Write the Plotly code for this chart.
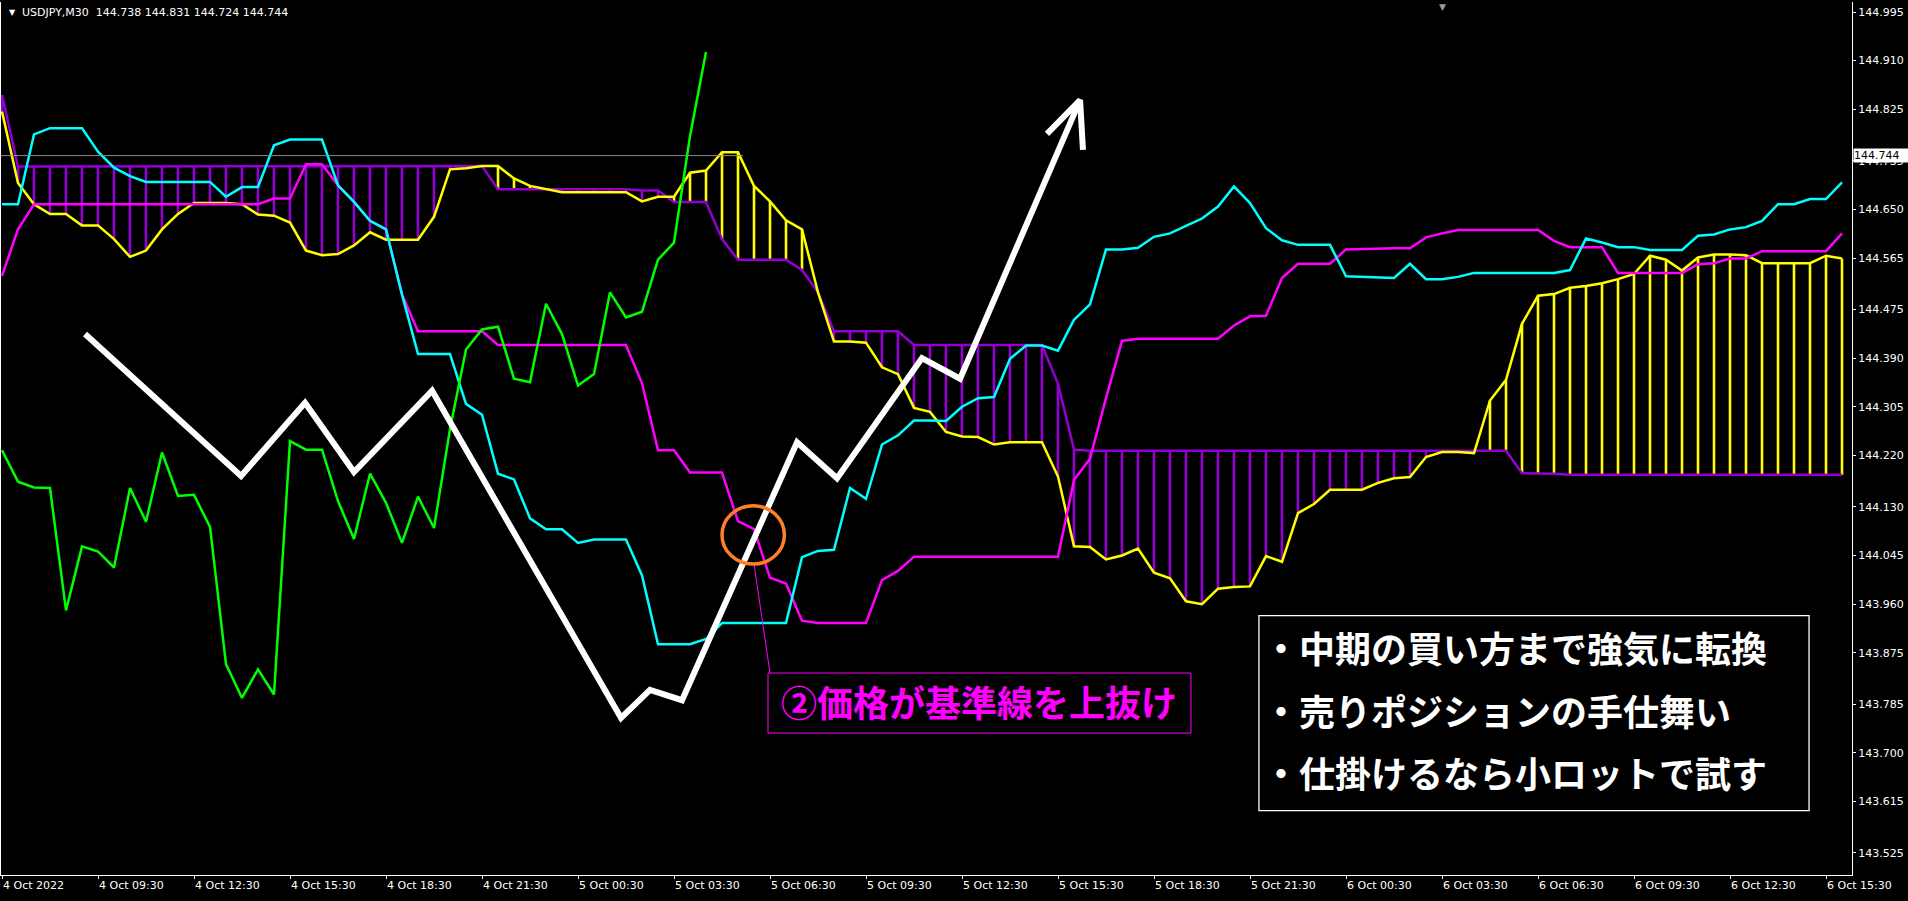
import plotly.graph_objects as go

# ---------------- data (30-minute bars, bar 0 = 4 Oct 06:30) ----------------
tenkan = [144.659, 144.659, 144.781, 144.792, 144.792, 144.792, 144.751, 144.723, 144.708, 144.698,
          144.698, 144.698, 144.698, 144.698, 144.672, 144.689, 144.689, 144.762, 144.772, 144.772,
          144.772, 144.692, 144.663, 144.630, 144.615, 144.501, 144.397, 144.397, 144.397, 144.310,
          144.291, 144.188, 144.178, 144.110, 144.091, 144.091, 144.067, 144.073, 144.073, 144.073,
          144.010, 143.890, 143.890, 143.890, 143.899, 143.927, 143.927, 143.927, 143.927, 143.927,
          144.042, 144.053, 144.055, 144.163, 144.144, 144.239, 144.255, 144.281, 144.281, 144.280,
          144.305, 144.320, 144.322, 144.389, 144.412, 144.412, 144.403, 144.457, 144.484, 144.580,
          144.580, 144.583, 144.602, 144.608, 144.621, 144.634, 144.655, 144.690, 144.661, 144.617,
          144.596, 144.588, 144.588, 144.588, 144.533, 144.532, 144.530, 144.530, 144.555, 144.528,
          144.528, 144.532, 144.539, 144.539, 144.539, 144.539, 144.539, 144.539, 144.544, 144.599,
          144.592, 144.584, 144.584, 144.579, 144.579, 144.579, 144.604, 144.606, 144.615, 144.619,
          144.630, 144.659, 144.659, 144.668, 144.668, 144.697]

kijun = [144.534, 144.615, 144.659, 144.659, 144.659, 144.659, 144.659, 144.659, 144.659, 144.659,
         144.659, 144.659, 144.659, 144.659, 144.659, 144.659, 144.659, 144.669, 144.669, 144.729,
         144.729, 144.692, 144.663, 144.630, 144.615, 144.501, 144.437, 144.437, 144.437, 144.437,
         144.437, 144.413, 144.413, 144.413, 144.413, 144.413, 144.413, 144.413, 144.413, 144.413,
         144.346, 144.229, 144.229, 144.190, 144.190, 144.190, 144.105, 144.091, 144.006, 143.996,
         143.931, 143.927, 143.927, 143.927, 143.927, 144.002, 144.018, 144.043, 144.043, 144.043,
         144.043, 144.043, 144.043, 144.043, 144.043, 144.043, 144.043, 144.177, 144.214, 144.320,
         144.420, 144.424, 144.424, 144.424, 144.424, 144.424, 144.424, 144.447, 144.463, 144.464,
         144.530, 144.555, 144.555, 144.555, 144.580, 144.581, 144.582, 144.582, 144.582, 144.601,
         144.608, 144.614, 144.614, 144.614, 144.614, 144.614, 144.614, 144.595, 144.584, 144.584,
         144.584, 144.539, 144.539, 144.539, 144.539, 144.539, 144.554, 144.556, 144.564, 144.564,
         144.577, 144.577, 144.577, 144.577, 144.577, 144.608]

senkou_a = [144.821, 144.696, 144.659, 144.642, 144.642, 144.622, 144.622, 144.598, 144.567, 144.578,
            144.615, 144.642, 144.661, 144.661, 144.661, 144.659, 144.641, 144.639, 144.627, 144.578,
            144.570, 144.572, 144.587, 144.610, 144.597, 144.597, 144.597, 144.637, 144.720, 144.722,
            144.726, 144.726, 144.704, 144.691, 144.685, 144.680, 144.680, 144.680, 144.680, 144.680,
            144.664, 144.672, 144.672, 144.714, 144.718, 144.750, 144.750, 144.691, 144.664, 144.631,
            144.615, 144.505, 144.419, 144.419, 144.417, 144.374, 144.362, 144.303, 144.296, 144.261,
            144.253, 144.252, 144.239, 144.243, 144.243, 144.243, 144.183, 144.061, 144.060, 144.038,
            144.045, 144.057, 144.015, 144.005, 143.965, 143.960, 143.987, 143.990, 143.991, 144.044,
            144.034, 144.119, 144.135, 144.160, 144.160, 144.160, 144.172, 144.180, 144.182, 144.217,
            144.226, 144.226, 144.224, 144.316, 144.352, 144.450, 144.499, 144.502, 144.513, 144.516,
            144.521, 144.528, 144.537, 144.569, 144.562, 144.543, 144.566, 144.571, 144.571, 144.570,
            144.556, 144.556, 144.556, 144.556, 144.569, 144.564]

senkou_b = [144.850, 144.725, 144.725, 144.725, 144.725, 144.725, 144.725, 144.725, 144.725, 144.725,
            144.725, 144.725, 144.725, 144.725, 144.725, 144.725, 144.725, 144.725, 144.725, 144.725,
            144.725, 144.725, 144.725, 144.725, 144.725, 144.725, 144.725, 144.725, 144.725, 144.725,
            144.726, 144.685, 144.685, 144.685, 144.685, 144.685, 144.685, 144.685, 144.685, 144.685,
            144.683, 144.683, 144.663, 144.663, 144.663, 144.598, 144.562, 144.562, 144.562, 144.562,
            144.544, 144.505, 144.437, 144.437, 144.437, 144.437, 144.437, 144.413, 144.413, 144.413,
            144.413, 144.413, 144.413, 144.413, 144.413, 144.413, 144.345, 144.230, 144.228, 144.228,
            144.228, 144.228, 144.228, 144.228, 144.228, 144.228, 144.228, 144.228, 144.228, 144.228,
            144.228, 144.228, 144.228, 144.228, 144.228, 144.228, 144.228, 144.228, 144.228, 144.228,
            144.228, 144.228, 144.228, 144.228, 144.228, 144.189, 144.189, 144.188, 144.186, 144.186,
            144.186, 144.186, 144.186, 144.186, 144.186, 144.186, 144.186, 144.186, 144.186, 144.186,
            144.186, 144.186, 144.186, 144.186, 144.186, 144.186]

chikou = [144.229, 144.174, 144.164, 144.163, 143.949, 144.061, 144.052, 144.024, 144.163, 144.104,
          144.225, 144.149, 144.151, 144.095, 143.855, 143.796, 143.846, 143.802, 144.245, 144.230,
          144.230, 144.140, 144.074, 144.188, 144.137, 144.067, 144.148, 144.093, 144.266, 144.405,
          144.440, 144.445, 144.354, 144.348, 144.485, 144.432, 144.342, 144.362, 144.505, 144.461,
          144.471, 144.562, 144.592, 144.778, 144.925]

# hand-drawn white path (bar position, price)
path_bar = [5.19, 14.94, 18.94, 22.0, 26.88, 38.69, 40.5, 42.5, 49.69, 52.19, 57.5, 59.88, 67.38]
path_price = [144.432, 144.184, 144.312, 144.191, 144.333, 143.761, 143.810, 143.792, 144.243,
              144.180, 144.390, 144.354, 144.841]
head_bar = [65.31, 67.38, 67.56]
head_price = [144.782, 144.841, 144.754]

time_labels = ["4 Oct 2022", "4 Oct 09:30", "4 Oct 12:30", "4 Oct 15:30", "4 Oct 18:30",
               "4 Oct 21:30", "5 Oct 00:30", "5 Oct 03:30", "5 Oct 06:30", "5 Oct 09:30",
               "5 Oct 12:30", "5 Oct 15:30", "5 Oct 18:30", "5 Oct 21:30", "6 Oct 00:30",
               "6 Oct 03:30", "6 Oct 06:30", "6 Oct 09:30", "6 Oct 12:30", "6 Oct 15:30"]
label_bars = [0, 6, 12, 18, 24, 30, 36, 42, 48, 54, 60, 66, 72, 78, 84, 90, 96, 102, 108, 114]

price_ticks = [144.995, 144.910, 144.825, 144.735, 144.650, 144.565, 144.475, 144.390, 144.305,
               144.220, 144.130, 144.045, 143.960, 143.875, 143.785, 143.700, 143.615, 143.525]

title_text = "USDJPY,M30\u00a0\u00a0144.738 144.831 144.724 144.744"
last_price = 144.744
last_price_end_bar = 46.3

note_text = "②価格が基準線を上抜け"
summary_lines = ["・中期の買い方まで強気に転換", "・売りポジションの手仕舞い", "・仕掛けるなら小ロットで試す"]

# annotation geometry in (bar, price)
circle_box = (45.0, 144.030, 48.9, 144.132)
note_box = (47.875, 143.7347, 74.31, 143.8396)
note_y = 143.7912
leader = ([47.0, 48.0], [144.030, 143.8396])
summary_box = (78.56, 143.5989, 112.94, 143.9398)
summary_x = 78.69
summary_y = [143.8856, 143.7749, 143.6660]

X_RANGE = [-0.0625, 115.625]
Y_RANGE = [143.4865, 145.0125]

CYAN = "#00FFFF"
MAGENTA = "#FF00FF"
YELLOW = "#FFFF00"
PURPLE = "#9400D3"
GREEN = "#00FF00"
JP_FONT = "Noto Sans CJK JP"
UI_FONT = "DejaVu Sans"

bars = list(range(len(senkou_a)))

# ---------------- cloud hatching ----------------
hy_x, hy_y, hp_x, hp_y = [], [], [], []
for i, (a, b) in zip(bars, zip(senkou_a, senkou_b)):
    if a > b:
        hy_x += [i, i, None]
        hy_y += [a, b, None]
    elif b > a:
        hp_x += [i, i, None]
        hp_y += [a, b, None]

fig = go.Figure()
fig.add_trace(go.Scatter(x=hp_x, y=hp_y, mode="lines", line=dict(color=PURPLE, width=2.6),
                         hoverinfo="skip", showlegend=False))
fig.add_trace(go.Scatter(x=hy_x, y=hy_y, mode="lines", line=dict(color=YELLOW, width=2.6),
                         hoverinfo="skip", showlegend=False))
fig.add_trace(go.Scatter(x=bars, y=senkou_b, mode="lines", line=dict(color=PURPLE, width=2.5),
                         showlegend=False))
fig.add_trace(go.Scatter(x=bars, y=senkou_a, mode="lines", line=dict(color=YELLOW, width=2.5),
                         showlegend=False))
fig.add_trace(go.Scatter(x=bars, y=kijun, mode="lines", line=dict(color=MAGENTA, width=2.5),
                         showlegend=False))
fig.add_trace(go.Scatter(x=bars, y=tenkan, mode="lines", line=dict(color=CYAN, width=2.5),
                         showlegend=False))
fig.add_trace(go.Scatter(x=bars[:len(chikou)], y=chikou, mode="lines",
                         line=dict(color=GREEN, width=2.5), showlegend=False))

# grey last-price line
fig.add_trace(go.Scatter(x=[X_RANGE[0], last_price_end_bar], y=[last_price, last_price], mode="lines",
                         line=dict(color="#8C8C8C", width=1), showlegend=False, hoverinfo="skip"))

# white drawn path with arrow head
fig.add_trace(go.Scatter(x=path_bar, y=path_price, mode="lines",
                         line=dict(color="#FFFFFF", width=6), showlegend=False))
fig.add_trace(go.Scatter(x=head_bar, y=head_price, mode="lines",
                         line=dict(color="#FFFFFF", width=6), showlegend=False))

# leader line
fig.add_trace(go.Scatter(x=leader[0], y=leader[1], mode="lines",
                         line=dict(color=MAGENTA, width=1), showlegend=False, hoverinfo="skip"))

shapes = [
    dict(type="circle", xref="x", yref="y", x0=circle_box[0], y0=circle_box[1],
         x1=circle_box[2], y1=circle_box[3], line=dict(color="#FF7F27", width=3.5)),
    dict(type="rect", xref="x", yref="y", x0=note_box[0], y0=note_box[1],
         x1=note_box[2], y1=note_box[3], line=dict(color=MAGENTA, width=1), fillcolor="#000000",
         layer="above"),
    dict(type="rect", xref="x", yref="y", x0=summary_box[0], y0=summary_box[1],
         x1=summary_box[2], y1=summary_box[3], line=dict(color="#FFFFFF", width=1.3),
         fillcolor="#000000", layer="above"),
]

annotations = [
    dict(xref="x", yref="y", x=(note_box[0] + note_box[2]) / 2, y=note_y,
         text="<b>" + note_text + "</b>", showarrow=False, xanchor="center", yanchor="middle",
         font=dict(family=JP_FONT, size=36, color=MAGENTA)),
]
for ty, line in zip(summary_y, summary_lines):
    annotations.append(dict(xref="x", yref="y", x=summary_x, y=ty, text="<b>" + line + "</b>",
                            showarrow=False, xanchor="left", yanchor="middle",
                            font=dict(family=JP_FONT, size=36, color="#FFFFFF")))
annotations += [
    dict(xref="paper", yref="paper", x=0.0035, y=0.9885, text="▼", showarrow=False,
         xanchor="left", yanchor="middle", font=dict(family=UI_FONT, size=8, color="#FFFFFF")),
    dict(xref="paper", yref="paper", x=0.0103, y=0.9885, text=title_text, showarrow=False,
         xanchor="left", yanchor="middle", font=dict(family=UI_FONT, size=11, color="#FFFFFF")),
    dict(xref="paper", yref="y", x=1, y=last_price, text=f"{last_price:.3f}", showarrow=False,
         xanchor="left", yanchor="middle", xshift=1, bgcolor="#FFFFFF", borderpad=0, width=56,
         align="left", font=dict(family=UI_FONT, size=11, color="#000000")),
    dict(xref="x", yref="paper", x=90, y=1.0, text="▼", showarrow=False, xanchor="center",
         yanchor="top", yshift=2, font=dict(family=UI_FONT, size=9, color="#9A9A9A")),
]

fig.update_layout(
    width=1908, height=901,
    margin=dict(l=1, r=56, t=2, b=26),
    paper_bgcolor="#000000", plot_bgcolor="#000000",
    shapes=shapes, annotations=annotations,
    showlegend=False,
    xaxis=dict(range=X_RANGE, tickmode="array", tickvals=label_bars, ticktext=time_labels,
               showgrid=False, zeroline=False, showline=True, linecolor="#FFFFFF", linewidth=1,
               ticks="outside", ticklen=3, tickcolor="#FFFFFF", ticklabelposition="outside right",
               tickfont=dict(family=UI_FONT, size=11, color="#FFFFFF"), fixedrange=True),
    yaxis=dict(range=Y_RANGE, side="right", tickmode="array", tickvals=price_ticks,
               ticktext=[f"{v:.3f}" for v in price_ticks], showgrid=False, zeroline=False,
               showline=True, mirror=True, linecolor="#FFFFFF", linewidth=1, ticks="outside",
               ticklen=3, tickcolor="#FFFFFF",
               tickfont=dict(family=UI_FONT, size=11, color="#FFFFFF"), fixedrange=True),
)

fig.write_html("out.html", config={"displayModeBar": False},
               post_script="document.body.style.margin='0';document.body.style.background='#000';")
